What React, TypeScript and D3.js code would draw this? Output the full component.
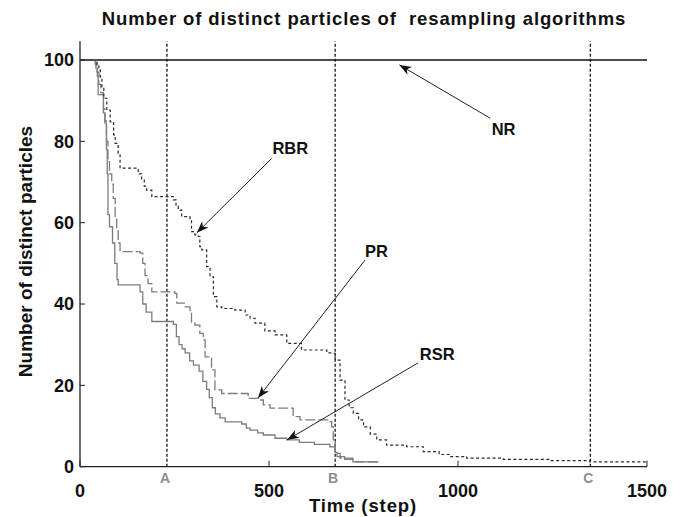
import React from "react";
import * as d3 from "d3";

const W = 683;
const H = 517;

const xTicks = [0, 500, 1000, 1500];
const yTicks = [0, 20, 40, 60, 80, 100];
const markerSteps = [230, 675, 1350];
const markerLabels = ["A", "B", "C"];

// [time step, number of distinct particles]
const nrData: [number, number][] = [[0, 100], [1500, 100]];

const rbrData: [number, number][] = [
  [35, 100], [45, 99], [50, 97.5], [54, 95.5], [58, 93], [63, 90.6], [71, 87.7], [80, 84.8],
  [89, 81.6], [93, 79.5], [101, 77], [106, 73.4], [154, 72], [163, 70.5], [170, 69], [176, 68],
  [190, 66.4], [247, 65.6], [254, 64], [260, 63.1], [269, 61.5], [291, 60.7], [295, 57.8],
  [304, 57], [313, 56.6], [317, 54.1], [322, 53.3], [335, 49.2], [344, 46.7], [353, 41.8],
  [362, 39.3], [375, 38.9], [410, 38.5], [437, 37.3], [450, 36.5], [463, 35.3], [489, 33.4],
  [516, 32.4], [547, 30.3], [586, 28.7], [653, 28.0], [670, 27.9], [675, 26.2], [688, 21.3],
  [701, 16.4], [712, 14.5], [723, 13.1], [737, 11.5], [750, 9.8], [768, 8], [785, 6.6],
  [811, 5.3], [864, 4.9], [908, 3.7], [950, 3], [979, 2.5], [1023, 2.1], [1120, 1.8],
  [1243, 1.5], [1349, 1.2], [1500, 1.1],
];

const prData: [number, number][] = [
  [35, 100], [40, 99], [45, 97], [50, 94], [55, 92], [62, 88], [66, 85], [70, 80], [74, 75],
  [78, 72], [84, 69.5], [88, 66], [93, 61.5], [97, 58], [101, 55], [106, 52.9], [159, 52.5],
  [166, 50], [172, 47], [180, 45], [190, 43], [251, 42.6], [256, 40.2], [278, 39.3],
  [291, 37.7], [295, 35.3], [304, 34.8], [317, 32.8], [326, 31.2], [331, 27], [348, 23.8],
  [357, 18.9], [375, 18], [445, 16.8], [476, 16.4], [485, 15.2], [503, 14.4], [564, 12.3],
  [582, 11.5], [657, 11.1], [666, 9.8], [670, 6.6], [675, 3.3], [688, 2.1], [722, 1.2],
  [790, 1.2],
];

const rsrData: [number, number][] = [
  [35, 100], [42, 98], [46, 96], [48, 91.5], [62, 87], [66, 84.5], [70, 78], [72, 72], [74, 62],
  [78, 59], [86, 55], [92, 50], [98, 46], [101, 44.7], [159, 43], [166, 40], [175, 38],
  [190, 35.7], [247, 35], [255, 32], [262, 30], [270, 29], [278, 28], [290, 26], [300, 25],
  [315, 23.5], [325, 21], [335, 19], [342, 17], [350, 14.5], [358, 13], [370, 12], [384, 11],
  [428, 10.5], [440, 9.5], [450, 9], [470, 8.3], [485, 7.8], [516, 7], [547, 6.6], [580, 6],
  [620, 5.5], [661, 4.9], [675, 3.5], [680, 2.5], [700, 1.8], [722, 1.2], [790, 1.2],
];

// annotations: label, text position [step, value], arrow start, arrow tip
const annoLabels = ["NR", "RBR", "PR", "RSR"];
const annoText: [number, number][] = [[1089, 81.6], [509, 76.9], [754, 51.6], [899, 26.2]];
const annoFrom: [number, number][] = [[1085, 85.7], [507, 75.8], [754, 50.8], [894, 25.5]];
const annoTo: [number, number][] = [[845, 98.8], [309, 57.5], [471, 16.9], [548, 6.6]];

const FONT = "'Liberation Sans', Arial, Helvetica, sans-serif";

export default function App() {
  const x = d3.scaleLinear().domain([0, 1500]).range([80, 647]);
  const y = d3.scaleLinear().domain([0, 100]).range([466.7, 60]);
  const yTop = 104.6;

  const line = d3
    .line<[number, number]>()
    .x((d) => x(d[0]))
    .y((d) => y(d[1]))
    .curve(d3.curveStepAfter);

  const series = [
    { data: nrData, stroke: "#111", dash: undefined, width: 1.3 },
    { data: rsrData, stroke: "#7c7c7c", dash: undefined, width: 1.3 },
    { data: prData, stroke: "#7c7c7c", dash: "10,3", width: 1.3 },
    { data: rbrData, stroke: "#2a2a2a", dash: "3,2.5", width: 1.2 },
  ];

  return (
    <svg
      width={W}
      height={H}
      style={{ position: "absolute", left: 0, top: 0, background: "#fff" }}
      fontFamily={FONT}
    >
      <rect x={0} y={0} width={W} height={H} fill="#fff" />
      {/* title */}
      <text
        x={364}
        y={24.7}
        textAnchor="middle"
        fontSize={18.5}
        fontWeight="bold"
        letterSpacing={0.9}
        fill="#111"
        style={{ whiteSpace: "pre" }}
      >
        {"Number of distinct particles of  resampling algorithms"}
      </text>

      {/* vertical marker lines */}
      {markerSteps.map((s, i) => (
        <g key={"m" + i}>
          <line
            x1={x(s)}
            x2={x(s)}
            y1={y(0)}
            y2={y(yTop)}
            stroke="#000"
            strokeWidth={1.2}
            strokeDasharray="3,2"
          />
          <text
            x={x(s) - 2}
            y={483}
            textAnchor="middle"
            fontSize={14}
            fontWeight="bold"
            fill="#8c8c8c"
          >
            {markerLabels[i]}
          </text>
        </g>
      ))}

      {/* series */}
      {series.map((s, i) => (
        <path
          key={"s" + i}
          d={line(s.data) || ""}
          fill="none"
          stroke={s.stroke}
          strokeWidth={s.width}
          strokeDasharray={s.dash}
        />
      ))}

      {/* axes */}
      <line x1={x(0)} x2={x(0)} y1={y(0)} y2={y(yTop)} stroke="#222" strokeWidth={1.3} />
      <line x1={x(0)} x2={x(1500)} y1={y(0)} y2={y(0)} stroke="#222" strokeWidth={1.3} />
      {yTicks.map((t) => (
        <g key={"yt" + t}>
          <line x1={x(0)} x2={x(0) + 5} y1={y(t)} y2={y(t)} stroke="#222" strokeWidth={1} />
          <text x={74} y={y(t) + 6.4} textAnchor="end" fontSize={18} fontWeight="bold" fill="#111">
            {t}
          </text>
        </g>
      ))}
      {xTicks.map((t) => (
        <g key={"xt" + t}>
          <line x1={x(t)} x2={x(t)} y1={y(0)} y2={y(0) - 6} stroke="#222" strokeWidth={1} />
          <text x={x(t)} y={497} textAnchor="middle" fontSize={18} fontWeight="bold" fill="#111">
            {t}
          </text>
        </g>
      ))}

      {/* axis labels */}
      <text
        x={363}
        y={511.7}
        textAnchor="middle"
        fontSize={18.5}
        fontWeight="bold"
        letterSpacing={0.9}
        fill="#111"
      >
        Time (step)
      </text>
      <text
        transform="translate(31.5,251.5) rotate(-90)"
        textAnchor="middle"
        fontSize={19}
        fontWeight="bold"
        fill="#111"
      >
        Number of distinct particles
      </text>

      {/* annotations */}
      {annoLabels.map((lab, i) => {
        const x1 = x(annoFrom[i][0]);
        const y1 = y(annoFrom[i][1]);
        const x2 = x(annoTo[i][0]);
        const y2 = y(annoTo[i][1]);
        const ang = (Math.atan2(y2 - y1, x2 - x1) * 180) / Math.PI;
        return (
          <g key={"a" + i}>
            <line x1={x1} y1={y1} x2={x2} y2={y2} stroke="#222" strokeWidth={1} />
            <path
              transform={`translate(${x2},${y2}) rotate(${ang})`}
              d="M0,0 L-12,-4.5 L-8.5,0 L-12,4.5 Z"
              fill="#111"
            />
            <text
              x={x(annoText[i][0])}
              y={y(annoText[i][1])}
              fontSize={16.5}
              fontWeight="bold"
              fill="#111"
            >
              {lab}
            </text>
          </g>
        );
      })}
    </svg>
  );
}
